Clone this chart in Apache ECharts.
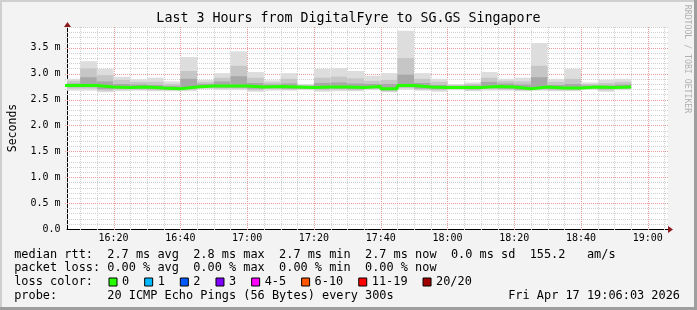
<!DOCTYPE html>
<html><head><meta charset="utf-8">
<script src="https://cdn.jsdelivr.net/npm/echarts@6/dist/echarts.min.js"></script>
<style>html,body{margin:0;padding:0;background:#f3f3f3}#c{width:697px;height:310px}</style>
</head><body><div id="c"></div>
<script>
// ---- data ----
const titleText = 'Last 3 Hours from DigitalFyre to SG.GS Singapore';
const rangeStart = '16:06:03';
const rangeEnd = '19:06:03';
const stepMinutes = 5;
const barStart = ['16:05','16:10','16:15','16:20','16:25','16:30','16:35','16:40','16:45','16:50','16:55',
  '17:00','17:05','17:10','17:15','17:20','17:25','17:30','17:35','17:40','17:45','17:50','17:55',
  '18:00','18:05','18:10','18:15','18:20','18:25','18:30','18:35','18:40','18:45','18:50'];
const rttMax = [2.90,3.24,3.09,2.94,2.89,2.92,2.85,3.32,2.88,3.01,3.43,3.03,2.87,3.01,2.80,3.09,3.11,3.05,2.96,3.01,3.83,3.01,2.90,2.80,2.83,3.03,2.90,2.92,3.59,2.90,3.09,2.83,2.88,2.90];
const rttP90 = [2.86,3.10,2.97,2.88,2.84,2.84,2.80,3.05,2.84,2.92,3.15,2.92,2.83,2.90,2.78,2.92,2.94,2.91,2.86,2.88,3.30,2.90,2.84,2.78,2.80,2.92,2.86,2.85,3.15,2.84,2.90,2.80,2.82,2.84];
const rttP75 = [2.81,2.93,2.85,2.80,2.79,2.78,2.76,2.90,2.80,2.85,2.95,2.82,2.79,2.81,2.76,2.82,2.83,2.81,2.80,2.80,2.98,2.82,2.78,2.76,2.77,2.84,2.81,2.79,2.93,2.78,2.80,2.77,2.77,2.79];
const rttMedian = [2.77,2.77,2.74,2.73,2.74,2.72,2.71,2.74,2.76,2.76,2.76,2.74,2.75,2.74,2.73,2.74,2.74,2.73,2.75,2.71,2.77,2.74,2.73,2.73,2.73,2.75,2.74,2.71,2.74,2.72,2.72,2.74,2.73,2.74];
const rttP25 = [2.74,2.74,2.70,2.71,2.71,2.70,2.69,2.71,2.74,2.73,2.73,2.71,2.72,2.71,2.71,2.71,2.71,2.70,2.72,2.68,2.74,2.71,2.70,2.71,2.70,2.72,2.71,2.69,2.71,2.70,2.70,2.72,2.70,2.72];
const rttP10 = [2.71,2.71,2.67,2.69,2.69,2.68,2.68,2.69,2.72,2.71,2.71,2.68,2.70,2.69,2.70,2.68,2.69,2.68,2.70,2.66,2.72,2.69,2.68,2.70,2.68,2.70,2.69,2.68,2.69,2.68,2.68,2.71,2.68,2.70];
const rttMin = [2.67,2.67,2.64,2.66,2.67,2.66,2.66,2.66,2.70,2.68,2.68,2.65,2.67,2.67,2.68,2.65,2.66,2.66,2.68,2.64,2.69,2.67,2.65,2.68,2.66,2.67,2.67,2.66,2.67,2.66,2.66,2.69,2.65,2.68];
const xTickLabels = ['16:20','16:40','17:00','17:20','17:40','18:00','18:20','18:40','19:00'];
const yMax = 3.9;
const lossNames = ['0','1','2','3','4-5','6-10','11-19','20/20'];
const lossColors = ['#26ff00','#00b8ff','#0059ff','#7e00ff','#ff00ff','#ff5500','#ff0000','#a10000'];
const legendRows = [
  'median rtt:  2.7 ms avg  2.8 ms max  2.7 ms min  2.7 ms now  0.0 ms sd  155.2   am/s',
  'packet loss: 0.00 % avg  0.00 % max  0.00 % min  0.00 % now',
  'loss color:',
  'probe:       20 ICMP Echo Pings (56 Bytes) every 300s'
];
const dateText = 'Fri Apr 17 19:06:03 2026';

// ---- helpers ----
function toMin(s){const p=s.split(':').map(Number);return (p[0]-16)*60+p[1]+(p[2]||0)/60;}
function fmtMin(v){const t=Math.round(v);const h=16+Math.floor(t/60),m=t%60;return h+':'+(m<10?'0':'')+m;}
const xMin = toMin(rangeStart), xMax = toMin(rangeEnd);
const smokeData = barStart.map((s,i)=>{const a=toMin(s);return [a,a+stepMinutes,rttMin[i],rttP10[i],rttP25[i],rttMedian[i],rttP75[i],rttP90[i],rttMax[i]];});
const medianData = barStart.map((s,i)=>[toMin(s),rttMedian[i]]);
medianData.push([toMin(barStart[barStart.length-1])+stepMinutes, rttMedian[rttMedian.length-1]]);

const MONO = "'DejaVu Sans Mono', monospace";

function renderGrid(params, api){
  const cs = params.coordSys;
  const left = cs.x, right = cs.x+cs.width, top = cs.y, bottom = cs.y+cs.height;
  const ch = [];
  const minorC = '#cfcfcf', majorC = '#eb9a9a';
  function hline(v,c){const y=Math.round(api.coord([xMin,v])[1])+0.5;ch.push({type:'line',shape:{x1:left-2,y1:y,x2:right,y2:y},style:{stroke:c,lineWidth:1,lineDash:[1,1]}});}
  function vline(v,c){const x=Math.round(api.coord([v,0])[0])+0.5;ch.push({type:'line',shape:{x1:x,y1:top,x2:x,y2:bottom+2},style:{stroke:c,lineWidth:1,lineDash:[1,1]}});}
  for(let k=1;k*0.1<=yMax+1e-9;k++){ if(k%5!==0) hline(k*0.1,minorC); }
  for(let m=0;m<=xMax;m+=stepMinutes){ if(m>xMin && m%20!==0) vline(m,minorC); }
  for(let k=1;k*0.5<yMax;k++) hline(k*0.5,majorC);
  xTickLabels.forEach(l=>vline(toMin(l),majorC));
  // axis arrows
  const o = api.coord([xMax,0]);
  const ay = Math.round(o[1])+0.5;
  ch.push({type:'polygon',shape:{points:[[right,ay-3.5],[right+5,ay],[right,ay+3.5]]},style:{fill:'#8b1a1a'},z2:10});
  const t = api.coord([xMin,yMax]);
  const ax = Math.round(t[0])+0.5;
  ch.push({type:'polygon',shape:{points:[[ax-3.5,top],[ax,top-5],[ax+3.5,top]]},style:{fill:'#8b1a1a'},z2:10});
  return {type:'group',children:ch};
}

function renderSmoke(params, api){
  const cs = params.coordSys;
  const bands = [[2,8,'#dddddd'],[3,7,'#c6c6c6'],[4,6,'#a8a8a8']];
  const children = bands.map(b=>{
    const a = api.coord([api.value(0), api.value(b[1])]);
    const c = api.coord([api.value(1), api.value(b[0])]);
    const x0 = Math.max(a[0], cs.x), x1 = Math.min(c[0], cs.x+cs.width);
    return {type:'rect',shape:{x:x0,y:a[1],width:x1-x0,height:c[1]-a[1]},style:{fill:b[2]}};
  });
  return {type:'group',children};
}

const chart = echarts.init(document.getElementById('c'), null, {renderer:'canvas'});
const series = [
  {type:'custom',name:'grid',data:[[xMin,0]],renderItem:renderGrid,silent:true,z:1,clip:false,encode:{x:0,y:1}},
  {type:'custom',name:'smoke',data:smokeData,renderItem:renderSmoke,silent:true,z:2,clip:true,encode:{x:[0,1],y:[2,3,4,5,6,7,8]}},
  {type:'line',name:lossNames[0],data:medianData,step:'end',showSymbol:false,symbol:'none',z:3,
    lineStyle:{color:lossColors[0],width:3},itemStyle:{color:lossColors[0]}}
];
for(let i=1;i<lossNames.length;i++){
  series.push({type:'bar',name:lossNames[i],data:[],itemStyle:{color:lossColors[i]}});
}

const graphics = [
  {type:'rect',shape:{x:0,y:0,width:697,height:2},style:{fill:'#cfcfcf'},silent:true},
  {type:'rect',shape:{x:0,y:0,width:2,height:310},style:{fill:'#cfcfcf'},silent:true},
  {type:'rect',shape:{x:0,y:307,width:697,height:3},style:{fill:'#9e9e9e'},silent:true},
  {type:'rect',shape:{x:694,y:0,width:3,height:310},style:{fill:'#9e9e9e'},silent:true},
  {type:'text',x:348.5,y:19,style:{text:titleText,font:'13.3px '+MONO,fill:'#000',textAlign:'center',textVerticalAlign:'middle'}},
  {type:'text',x:687,y:59,rotation:-Math.PI/2,style:{text:'RRDTOOL / TOBI OETIKER',font:'8.2px '+MONO,fill:'#b0b0b0',textAlign:'center',textVerticalAlign:'middle'}}
];
const rowY = [254.6, 268.2, 282, 295.7];
legendRows.forEach((r,i)=>graphics.push({type:'text',x:14.2,y:rowY[i],style:{text:r,font:'11.9px '+MONO,fill:'#000',textVerticalAlign:'middle'}}));
graphics.push({type:'text',x:680,y:rowY[3],style:{text:dateText,font:'11.9px '+MONO,fill:'#000',textAlign:'right',textVerticalAlign:'middle'}});

chart.setOption({
  animation:false,
  backgroundColor:'#f3f3f3',
  grid:{left:67,right:29,top:27,bottom:81,show:true,backgroundColor:'#ffffff',borderWidth:0,containLabel:false,outerBoundsMode:'none'},
  xAxis:{type:'value',min:xMin,max:xMax,
    axisLine:{show:true,lineStyle:{color:'#000',width:1}},
    axisTick:{show:false},splitLine:{show:false},
    axisLabel:{customValues:xTickLabels.map(toMin),formatter:v=>fmtMin(v),fontFamily:MONO,fontSize:10,color:'#000',margin:4}},
  yAxis:{type:'value',min:0,max:yMax,interval:0.5,
    name:'Seconds',nameLocation:'middle',nameRotate:90,nameGap:48,
    nameTextStyle:{fontFamily:MONO,fontSize:11.5,color:'#000'},
    axisLine:{show:true,lineStyle:{color:'#000',width:1}},
    axisTick:{show:false},splitLine:{show:false},
    axisLabel:{showMaxLabel:false,fontFamily:MONO,fontSize:10,color:'#000',margin:6.5,
      formatter:v=>{const r=Math.round(v*2)/2; if(Math.abs(r-v)>1e-6) return ''; return v===0?'0.0':v.toFixed(1)+' m';}}},
  legend:{data:lossNames,left:108.5,top:275,padding:0,itemGap:15,itemWidth:8,itemHeight:8,icon:'rect',
    selectedMode:false,itemStyle:{borderColor:'#000',borderWidth:1},
    textStyle:{fontFamily:MONO,fontSize:11.9,color:'#000',lineHeight:14}},
  graphic:graphics,
  series:series
});
</script></body></html>
